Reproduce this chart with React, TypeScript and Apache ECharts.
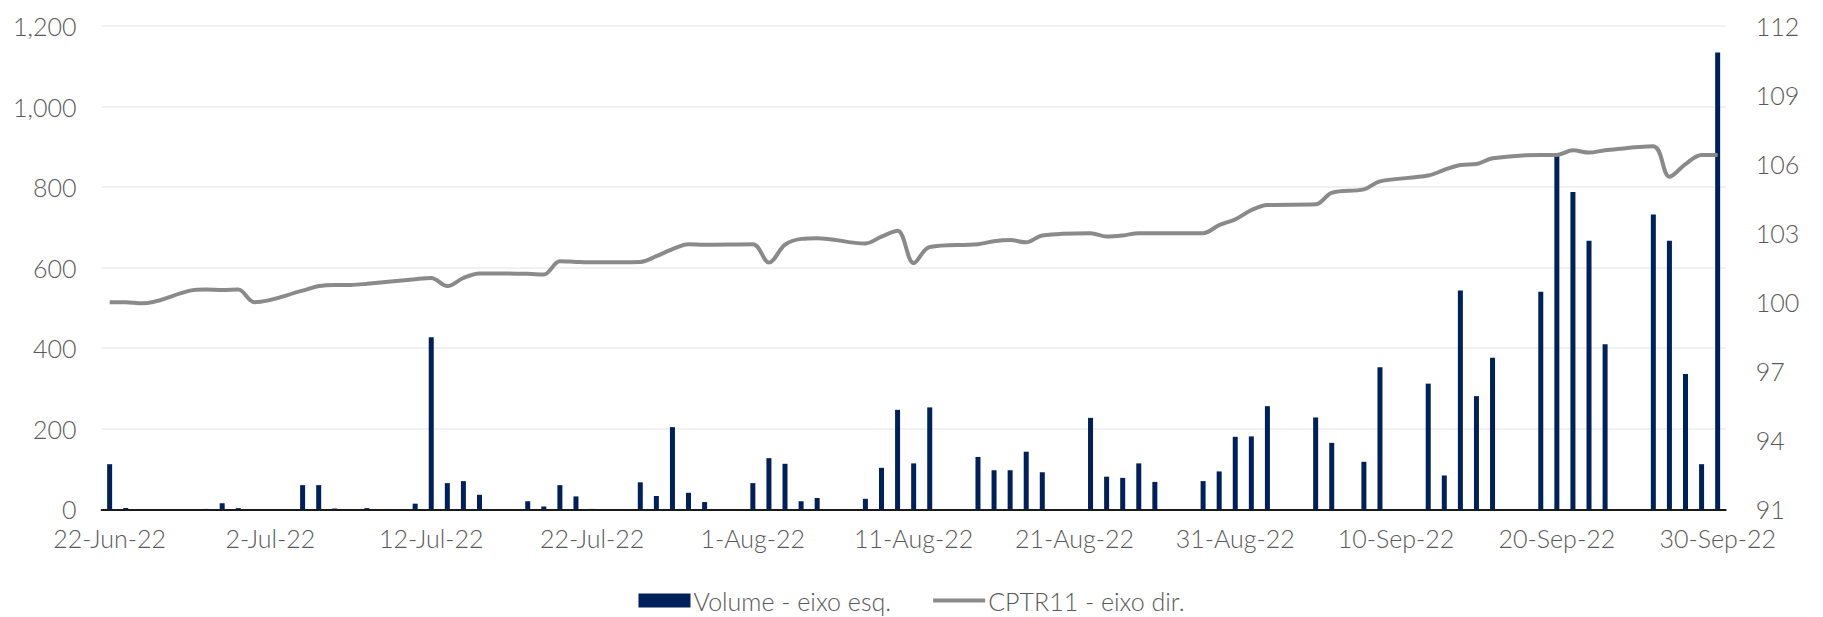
import React, { useEffect, useRef } from "react";
import * as echarts from "echarts";

const START_DATE = { y: 2022, m: 5, d: 22 };
const DAY_COUNT = 101;
const MONTHS = ["Jan", "Feb", "Mar", "Apr", "May", "Jun", "Jul", "Aug", "Sep", "Oct", "Nov", "Dec"];

const volume: number[] = [
  112, 3, 0, 0, 0, 0, 1, 15, 3, 0,
  0, 0, 60, 60, 2, 0, 3, 0, 0, 14,
  427, 65, 70, 36, 0, 0, 20, 7, 60, 32,
  1, 0, 0, 67, 33, 204, 41, 18, 0, 0,
  65, 127, 113, 20, 28, 0, 0, 26, 103, 247,
  114, 253, 0, 0, 130, 97, 97, 143, 92, 0,
  0, 227, 81, 78, 114, 68, 0, 0, 70, 94,
  180, 181, 256, 0, 0, 228, 165, 0, 118, 353,
  0, 0, 312, 84, 543, 281, 376, 0, 0, 540,
  880, 788, 667, 410, 0, 0, 732, 667, 336, 112,
  1134,
];

const price: (number | null)[] = [
  100.0, 100.0, 99.95, null, null, 100.5, 100.55, 100.53, 100.55, 100.0,
  null, null, 100.5, 100.7, 100.75, 100.75, 100.8, null, null, 101.0,
  101.05, 100.7, 101.05, 101.25, null, null, 101.23, 101.2, 101.78, 101.75,
  101.73, null, null, 101.75, 102.0, 102.3, 102.52, 102.5, null, null,
  102.52, 101.72, 102.5, 102.75, 102.78, null, null, 102.55, 102.85, 103.1,
  101.7, 102.4, null, null, 102.52, 102.65, 102.7, 102.6, 102.9, null,
  null, 103.0, 102.85, 102.9, 103.0, 103.0, null, null, 103.0, 103.35,
  103.6, 104.0, 104.22, null, null, 104.25, 104.75, null, 104.9, 105.25,
  null, null, 105.5, 105.75, 105.96, 106.0, 106.25, null, null, 106.4,
  106.4, 106.6, 106.5, 106.6, null, null, 106.78, 105.45, 106.0, 106.4,
  106.4,
];

const SERIES_NAMES = ["Volume - eixo esq.", "CPTR11 - eixo dir."];

function buildDates(): string[] {
  const out: string[] = [];
  for (let i = 0; i < DAY_COUNT; i++) {
    const dt = new Date(Date.UTC(START_DATE.y, START_DATE.m, START_DATE.d + i));
    out.push(`${dt.getUTCDate()}-${MONTHS[dt.getUTCMonth()]}-${String(dt.getUTCFullYear()).slice(2)}`);
  }
  return out;
}

const TEXT_COLOR = "#595959";
const FONT = "Lato, 'Open Sans', sans-serif";
const LINE_ICON = "path://M0,0h0.01v0.01h-0.01z M0,5h52v4h-52z M51.99,13.99h0.01v0.01h-0.01z";

export default function App() {
  const ref = useRef<HTMLDivElement>(null);
  useEffect(() => {
    if (!ref.current) return;
    const chart = echarts.init(ref.current, null, { renderer: "svg" });
    const dates = buildDates();
    chart.setOption({
      animation: false,
      backgroundColor: "#ffffff",
      textStyle: { fontFamily: FONT, fontWeight: 300 },
      grid: { left: 101.6, right: 97.3, top: 26, bottom: 107.7, containLabel: false },
      legend: {
        data: [
          { name: SERIES_NAMES[0], icon: "rect" },
          { name: SERIES_NAMES[1], icon: LINE_ICON, itemStyle: { color: "#8a8a8a" } },
        ],
        left: "center",
        top: 583,
        itemWidth: 52,
        itemHeight: 14,
        itemGap: 42,
        textStyle: { color: TEXT_COLOR, fontSize: 25, fontFamily: FONT, fontWeight: 300, padding: [0, 0, 0, -2] },
      },
      xAxis: {
        type: "category",
        data: dates,
        boundaryGap: true,
        axisLine: { lineStyle: { color: "#1a1a1a", width: 2 } },
        axisTick: { show: false },
        axisLabel: {
          interval: 9,
          color: TEXT_COLOR,
          fontSize: 25,
          fontFamily: FONT,
          fontWeight: 300,
          margin: 16,
        },
      },
      yAxis: [
        {
          type: "value",
          min: 0,
          max: 1200,
          interval: 200,
          axisLine: { show: false },
          axisTick: { show: false },
          splitLine: { lineStyle: { color: "#ededed", width: 1.5 } },
          axisLabel: {
            color: TEXT_COLOR,
            fontSize: 25,
            fontFamily: FONT,
            fontWeight: 300,
            margin: 25,
            formatter: (v: number) => v.toLocaleString("en-US"),
          },
        },
        {
          type: "value",
          min: 91,
          max: 112,
          interval: 3,
          position: "right",
          axisLine: { show: false },
          axisTick: { show: false },
          splitLine: { show: false },
          axisLabel: {
            color: TEXT_COLOR,
            fontSize: 25,
            fontFamily: FONT,
            fontWeight: 300,
            margin: 30,
          },
        },
      ],
      series: [
        {
          name: SERIES_NAMES[0],
          type: "bar",
          yAxisIndex: 0,
          data: volume,
          barWidth: 5,
          itemStyle: { color: "#00205b" },
        },
        {
          name: SERIES_NAMES[1],
          type: "line",
          yAxisIndex: 1,
          data: price,
          connectNulls: true,
          smooth: 0.35,
          symbol: "none",
          lineStyle: { color: "#8a8a8a", width: 4 },
          itemStyle: { color: "#8a8a8a" },
        },
      ],
    });
    return () => chart.dispose();
  }, []);
  return (
    <div
      ref={ref}
      style={{ position: "fixed", left: 0, top: 0, width: 1823, height: 617 }}
    />
  );
}
